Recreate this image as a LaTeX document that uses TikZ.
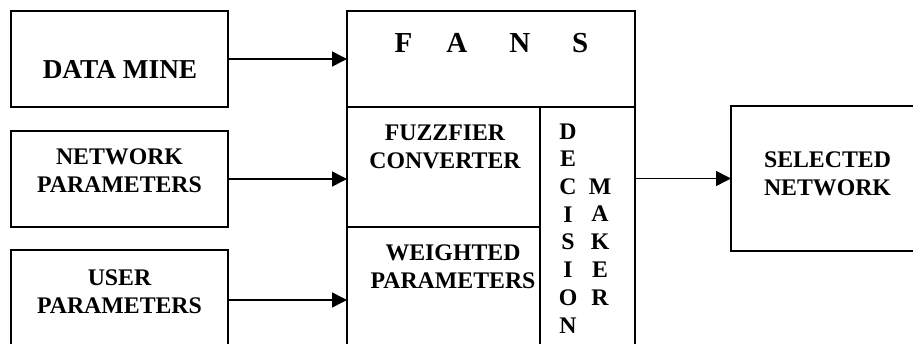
\documentclass[tikz,border=0pt]{standalone}
\usepackage{fontspec}
\setmainfont{Liberation Serif}
\usetikzlibrary{arrows.meta}

\tikzset{
  box/.style={draw, line width=1.5pt, rectangle, inner sep=0pt, outer sep=0pt, anchor=north west},
  txt/.style={font=\bfseries\fontsize{23.8}{27.7}\selectfont, align=center, inner sep=0pt, anchor=base},
  flow/.style={line width=1.5pt, -{Triangle[length=15pt, width=15pt]}}
}

\begin{document}
\begin{tikzpicture}[x=1pt, y=-1pt]
  \useasboundingbox (0,0) rectangle (913,343);
  \clip (0,0) rectangle (913,343);

  % input blocks
  \node[box, minimum width=217pt, minimum height=96pt]  (dm) at (11,11)  {};
  \node[box, minimum width=217pt, minimum height=96pt]  (np) at (11,131) {};
  \node[box, minimum width=217pt, minimum height=100pt] (up) at (11,250) {};

  % FANS system
  \node[box, minimum width=288pt, minimum height=96pt]  (fans) at (347,11)  {};
  \node[box, minimum width=193pt, minimum height=120pt] (fuzz) at (347,107) {};
  \node[box, minimum width=193pt, minimum height=123pt] (wp)   at (347,227) {};
  \node[box, minimum width=95pt,  minimum height=243pt] (dec)  at (540,107) {};

  % output block
  \node[box, minimum width=200pt, minimum height=145pt] (sel) at (731,106) {};

  % labels (anchored at the baseline of the last line)
  \node[txt, font=\bfseries\fontsize{27.3}{30}\selectfont] (dmt) at (120,78) {DATA MINE};
  \node[txt] (npt) at (119.5,192) {NETWORK\\PARAMETERS};
  \node[txt] (upt) at (119.5,313) {USER\\PARAMETERS};
  \node[txt, font=\bfseries\fontsize{29}{32}\selectfont] (fanst) at (491.5,52)
    {F\hspace{34pt}A\hspace{42pt}N\hspace{42pt}S};
  \node[txt] (fuzzt) at (445,168) {FUZZFIER\\CONVERTER};
  \node[txt] (wpt) at (453,288) {WEIGHTED\\PARAMETERS};
  \node[txt] (dect) at (568,333) {D\\E\\C\\I\\S\\I\\O\\N};
  \node[txt] (makt) at (600,305) {M\\A\\K\\E\\R};
  \node[txt] (selt) at (827.5,195) {SELECTED\\NETWORK};

  % connectors
  \draw[flow] (dm.east) -- (fans.west);
  \draw[flow] (np.east) -- (np.east -| fuzz.west);
  \draw[flow] (up.east) -- (up.east -| wp.west);
  \draw[flow] (sel.west -| dec.east) -- (sel.west);
\end{tikzpicture}
\end{document}
